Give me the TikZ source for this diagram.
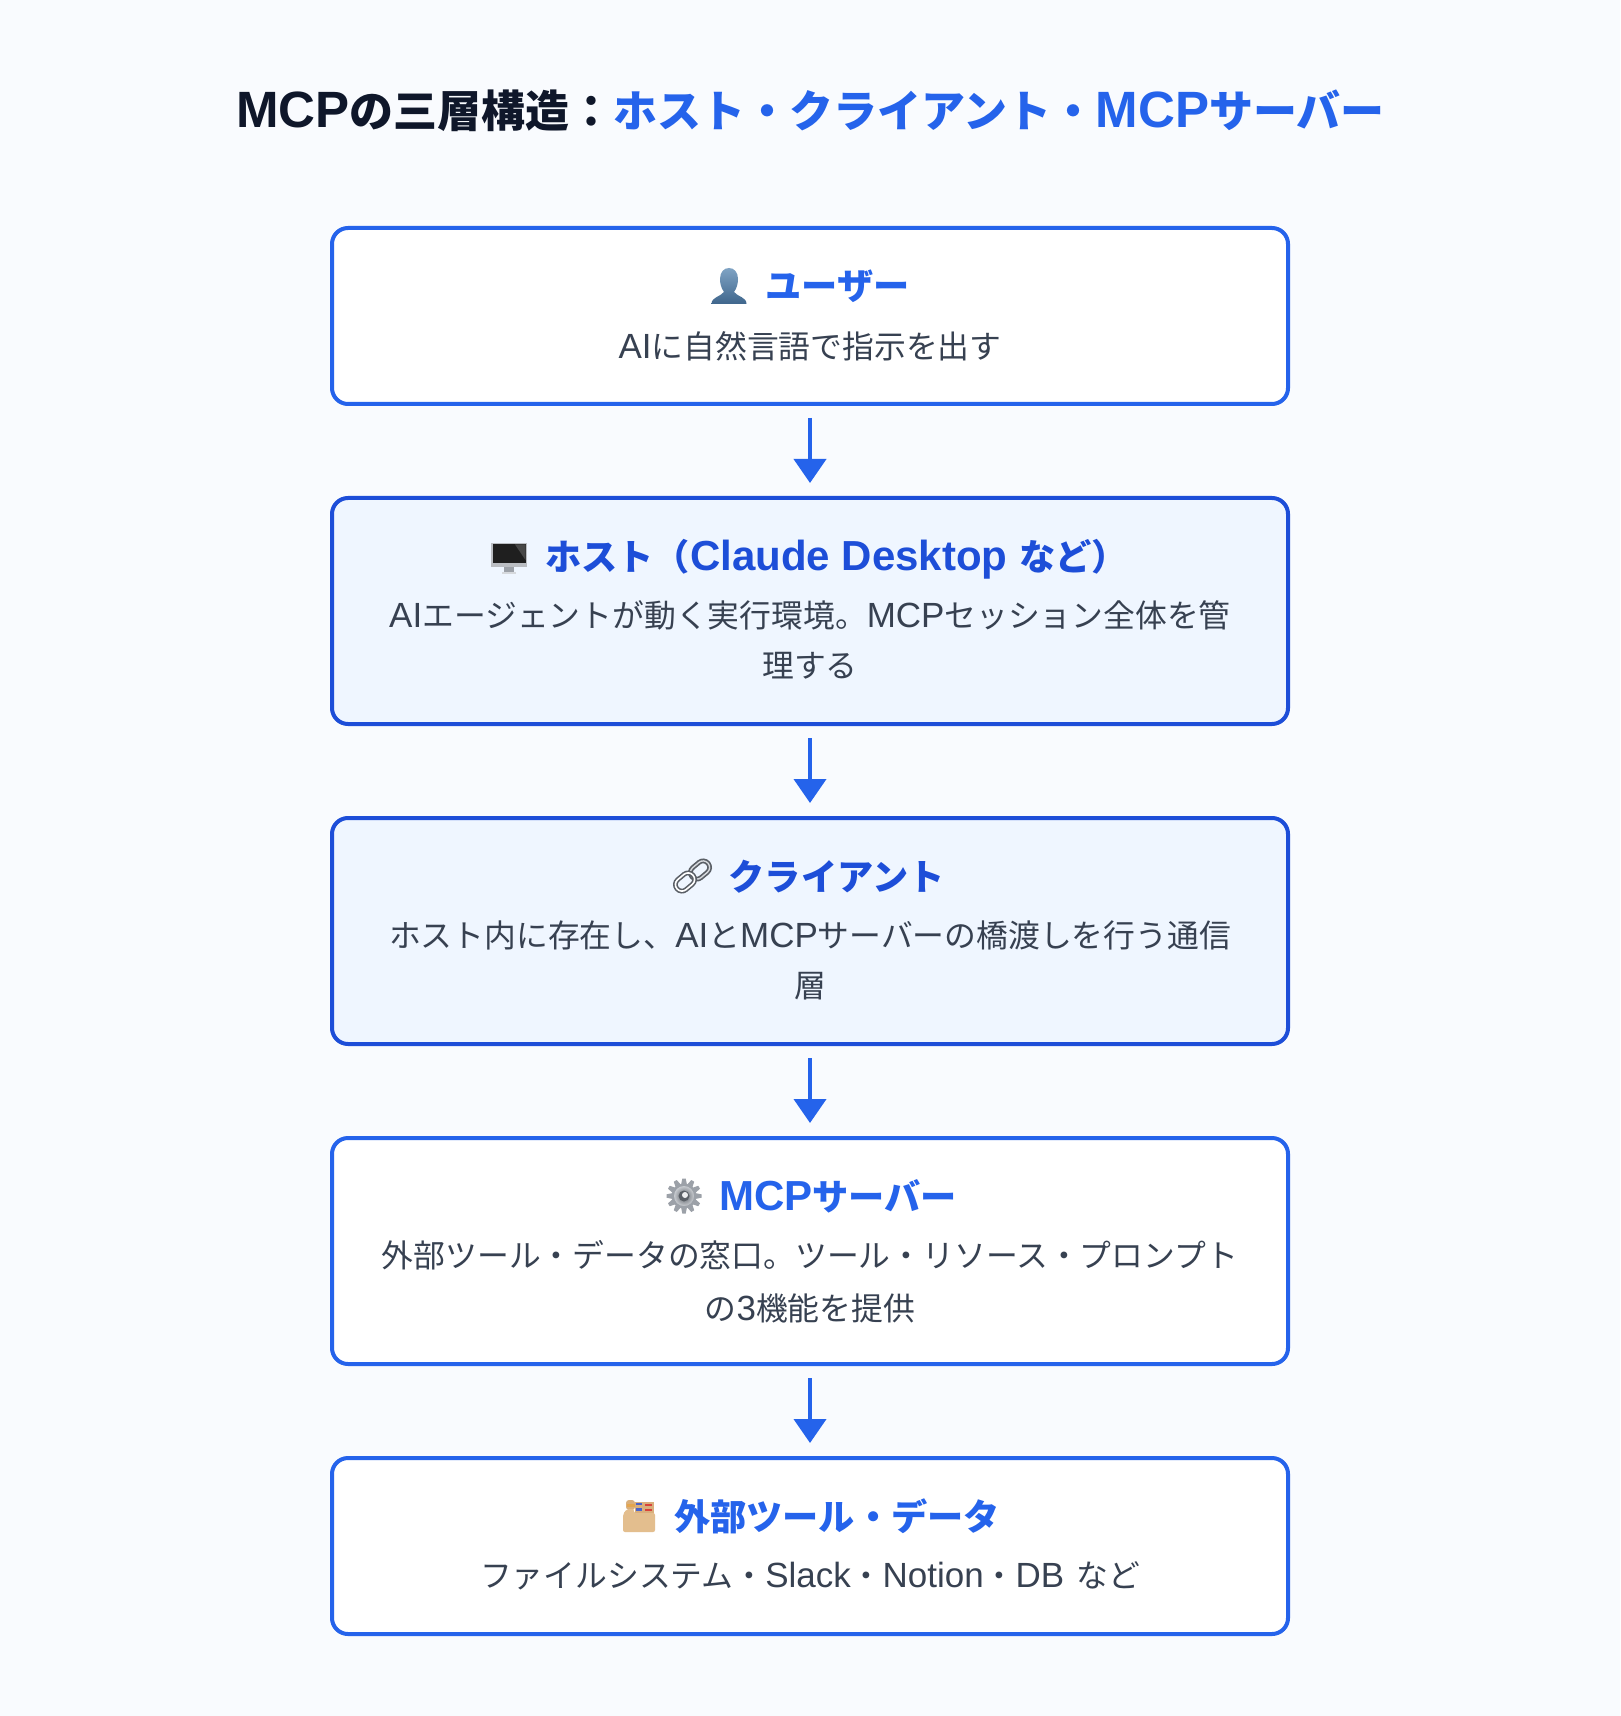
\documentclass[tikz,border=0pt]{standalone}
\usepackage{fontspec}
\usetikzlibrary{arrows.meta,shapes.geometric}
\setmainfont{Noto Sans CJK JP}
\newfontfamily\lsf[Scale=1.1]{Liberation Sans}
\newfontfamily\lsfb[Scale=1.16]{Liberation Sans}
\newcommand{\lt}[1]{{\lsf #1}}
\newcommand{\ltb}[1]{{\lsfb #1}}
\definecolor{pagebg}{HTML}{F9FBFE}
\definecolor{bluea}{HTML}{2563EB}
\definecolor{blueb}{HTML}{1D4ED8}
\definecolor{hlfill}{HTML}{EFF6FF}
\definecolor{titledark}{HTML}{0F172A}
\definecolor{desccol}{HTML}{374151}
\definecolor{iconA}{HTML}{7FA3C4}
\definecolor{iconB}{HTML}{3F668C}
\definecolor{iconSilver}{HTML}{9CA1A8}
\definecolor{iconLight}{HTML}{D6D9DD}
\definecolor{iconMid}{HTML}{8A8F96}
\definecolor{iconDark}{HTML}{5A5F66}
\definecolor{tanA}{HTML}{E3BE8E}
\definecolor{tanB}{HTML}{D9AF7C}
\definecolor{tabO}{HTML}{E5A64E}
\definecolor{tabB}{HTML}{4A63C8}
\definecolor{tabR}{HTML}{D9423A}
\tikzset{
  x=0.5pt,y=-0.5pt,
  flowbox/.style={rectangle,draw=bluea,fill=white,line width=2pt,rounded corners=8pt,
    minimum width=478pt,outer sep=0pt,inner sep=0pt},
  hlbox/.style={flowbox,draw=blueb,fill=hlfill},
  flowarrow/.style={draw=bluea,line width=2pt,shorten <=7pt,shorten >=7.5pt,
    -{Triangle[width=16pt,length=12pt]}},
  txt/.style={inner sep=0pt,outer sep=0pt,anchor=center,text height=.88em,text depth=.12em},
  titletxt/.style={txt,font=\fontsize{22}{26}\selectfont\bfseries},
  headtxt/.style={txt,font=\fontsize{18.1}{22}\selectfont\bfseries,text=bluea},
  hlhead/.style={headtxt,text=blueb},
  desctxt/.style={txt,font=\fontsize{15.9}{20}\selectfont,text=desccol},
  pics/personicon/.style={code={
    \shade[top color=iconA,bottom color=iconB]
      (-17.5,18) .. controls (-17.5,11) and (-9,11) .. (-5,6)
      .. controls (-8,2) and (-9,-3) .. (-9,-7)
      .. controls (-9,-14) and (-5,-18) .. (0,-18)
      .. controls (5,-18) and (9,-14) .. (9,-7)
      .. controls (9,-3) and (8,2) .. (5,6)
      .. controls (9,11) and (17.5,11) .. (17.5,18) -- cycle;
  }},
  pics/monitoricon/.style={code={
    \fill[iconSilver] (-5,8) rectangle (5,14);
    \fill[iconLight] (-7,13.5) rectangle (7,15.5);
    \fill[iconSilver!70!white] (-18,-15) rectangle (18,9);
    \fill[black!88] (-16.5,-13.5) rectangle (16.5,5);
    \fill[black!72] (6,-13.5) -- (16.5,-13.5) -- (16.5,2) -- cycle;
  }},
  pics/chainicon/.style={code={
    \begin{scope}[shift={(7,-6)},rotate=40]
      \draw[iconDark,line width=2.4pt,rounded corners=3.2pt] (-10.5,-6.5) rectangle (10.5,6.5);
      \draw[iconLight,line width=0.7pt,rounded corners=3.2pt] (-10.5,-6.5) rectangle (10.5,6.5);
    \end{scope}
    \begin{scope}[shift={(-8,6)},rotate=40]
      \draw[iconDark,line width=2.4pt,rounded corners=3.2pt] (-10.5,-6.5) rectangle (10.5,6.5);
      \draw[white,line width=0.8pt,rounded corners=3.2pt] (-10.5,-6.5) rectangle (10.5,6.5);
    \end{scope}
  }},
  pics/gearicon/.style={code={
    \foreach \a in {0,30,...,330}{
      \fill[iconSilver,rotate=\a] (-3,-11) -- (-1.7,-17.5) -- (1.7,-17.5) -- (3,-11) -- cycle;
    }
    \fill[iconSilver] (0,0) circle (12.5);
    \shade[inner color=iconDark,outer color=iconLight!80!iconMid] (0,0) circle (10);
    \fill[iconDark] (0,0) circle (5.5);
    \fill[white!85!iconMid] (1,-1) circle (3);
  }},
  pics/boxicon/.style={code={
    \fill[tanB,rounded corners=1.5pt] (-13,-16) rectangle (-4,-6);
    \fill[tanB] (-4,-14) rectangle (15,-2);
    \fill[tabO] (-12,-12) rectangle (-4,-9);
    \fill[tabB] (-3,-13) rectangle (3,-11);
    \fill[tabR] (6,-12) rectangle (13,-10);
    \fill[tabB] (-3,-8) rectangle (3,-5.5);
    \fill[tabR] (6,-7.5) rectangle (13,-5);
    \fill[tanA,rounded corners=1pt] (-16,-2) -- (-12,-7) -- (-5,-7) -- (-5,-3) -- (16,-3) -- (16,16) -- (-16,16) -- cycle;
  }},
}
\begin{document}
\begin{tikzpicture}
\useasboundingbox (0,0) rectangle (1620,1716);
\fill[pagebg] (0,0) rectangle (1620,1716);

\node[titletxt] (title) at (810.5,120) {\textcolor{titledark}{\ltb{MCP}の三層構造：}\textcolor{bluea}{ホスト・クライアント・\ltb{MCP}サーバー}};

\node[flowbox,minimum height=88pt] (b1) at (810,316) {};
\node[hlbox,minimum height=113pt]  (b2) at (810,611) {};
\node[hlbox,minimum height=113pt]  (b3) at (810,931) {};
\node[flowbox,minimum height=113pt] (b4) at (810,1251) {};
\node[flowbox,minimum height=88pt] (b5) at (810,1546) {};

\draw[flowarrow] (b1.south) -- (b2.north);
\draw[flowarrow] (b2.south) -- (b3.north);
\draw[flowarrow] (b3.south) -- (b4.north);
\draw[flowarrow] (b4.south) -- (b5.north);

\pic at (729,286) {personicon};
\node[headtxt] (h1) at (837.5,292) {ユーザー};
\node[desctxt] (d1) at (810,350.5) {\lt{AI}に自然言語で指示を出す};

\pic at (509,558) {monitoricon};
\node[hlhead] (h2) at (836.5,562.5) {ホスト（\ltb{Claude Desktop}\hspace{1.6pt} など）};
\node[desctxt] (d2a) at (810,620) {\lt{AI}エージェントが動く実行環境。\lt{MCP}セッション全体を管};
\node[desctxt] (d2b) at (810,670) {理する};

\pic at (693,876) {chainicon};
\node[hlhead] (h3) at (836.5,882.5) {クライアント};
\node[desctxt] (d3a) at (810,940) {ホスト内に存在し、\lt{AI}と\lt{MCP}サーバーの橋渡しを行う通信};
\node[desctxt] (d3b) at (810,990) {層};

\pic at (684,1196) {gearicon};
\node[headtxt] (h4) at (838,1202.5) {\ltb{MCP}サーバー};
\node[desctxt] (d4a) at (810,1260) {外部ツール・データの窓口。ツール・リソース・プロンプト};
\node[desctxt] (d4b) at (810,1312.5) {の\lt{3}機能を提供};

\pic at (639,1516) {boxicon};
\node[headtxt] (h5) at (837,1522.5) {外部ツール・データ};
\node[desctxt] (d5) at (810,1579.5) {ファイルシステム・\lt{Slack}・\lt{Notion}・\lt{DB}\hspace{2.5pt} など};
\end{tikzpicture}
\end{document}
